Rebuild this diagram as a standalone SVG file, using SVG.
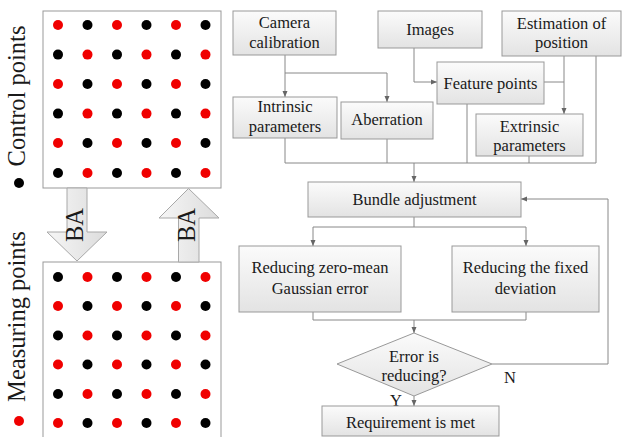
<svg xmlns="http://www.w3.org/2000/svg" width="622" height="437" viewBox="0 0 622 437">
<defs>
<linearGradient id="boxg" x1="0" y1="0" x2="0" y2="1">
<stop offset="0" stop-color="#fbfbfb"/>
<stop offset="1" stop-color="#e3e3e3"/>
</linearGradient>
<linearGradient id="arrg" x1="0" y1="0" x2="1" y2="0">
<stop offset="0" stop-color="#f6f6f6"/>
<stop offset="1" stop-color="#dcdcdc"/>
</linearGradient>
<marker id="ah" markerUnits="userSpaceOnUse" markerWidth="6" markerHeight="6" viewBox="0 0 6 6" refX="6" refY="3" orient="auto">
<path d="M0,0.5 L6,3 L0,5.5 Z" fill="#666"/>
</marker>
<style>
.box{fill:url(#boxg);stroke:#999;stroke-width:1}
.grid{fill:#fff;stroke:#999;stroke-width:1}
.t{font-family:"Liberation Serif","Times New Roman",serif;font-size:16.5px;fill:#1a1a1a;text-anchor:middle}
.big{font-family:"Liberation Serif","Times New Roman",serif;font-size:24.5px;fill:#1a1a1a;text-anchor:middle}
.c{fill:none;stroke:#888;stroke-width:1}
.r{fill:#f00000}
.k{fill:#000}
.ba{fill:url(#arrg);stroke:#a8a8a8;stroke-width:1}
</style>
</defs>

<!-- Left: control points grid -->
<g id="control-grid">
<rect class="grid" x="43" y="11" width="178" height="177"/>
<g>
<circle class="r" cx="58" cy="25" r="5"/><circle class="k" cx="87.5" cy="25" r="5"/><circle class="r" cx="117" cy="25" r="5"/><circle class="k" cx="146.5" cy="25" r="5"/><circle class="r" cx="176" cy="25" r="5"/><circle class="k" cx="205.5" cy="25" r="5"/>
<circle class="k" cx="58" cy="54.6" r="5"/><circle class="r" cx="87.5" cy="54.6" r="5"/><circle class="k" cx="117" cy="54.6" r="5"/><circle class="r" cx="146.5" cy="54.6" r="5"/><circle class="k" cx="176" cy="54.6" r="5"/><circle class="r" cx="205.5" cy="54.6" r="5"/>
<circle class="r" cx="58" cy="84" r="5"/><circle class="k" cx="87.5" cy="84" r="5"/><circle class="r" cx="117" cy="84" r="5"/><circle class="k" cx="146.5" cy="84" r="5"/><circle class="r" cx="176" cy="84" r="5"/><circle class="k" cx="205.5" cy="84" r="5"/>
<circle class="k" cx="58" cy="113.6" r="5"/><circle class="r" cx="87.5" cy="113.6" r="5"/><circle class="k" cx="117" cy="113.6" r="5"/><circle class="r" cx="146.5" cy="113.6" r="5"/><circle class="k" cx="176" cy="113.6" r="5"/><circle class="r" cx="205.5" cy="113.6" r="5"/>
<circle class="r" cx="58" cy="143" r="5"/><circle class="k" cx="87.5" cy="143" r="5"/><circle class="r" cx="117" cy="143" r="5"/><circle class="k" cx="146.5" cy="143" r="5"/><circle class="r" cx="176" cy="143" r="5"/><circle class="k" cx="205.5" cy="143" r="5"/>
<circle class="k" cx="58" cy="173" r="5"/><circle class="r" cx="87.5" cy="173" r="5"/><circle class="k" cx="117" cy="173" r="5"/><circle class="r" cx="146.5" cy="173" r="5"/><circle class="k" cx="176" cy="173" r="5"/><circle class="r" cx="205.5" cy="173" r="5"/>
</g>
</g>
<g id="control-label">
<text class="big" transform="translate(25,96) rotate(-90)">Control points</text>
<circle class="k" cx="19" cy="183" r="5"/>
</g>

<!-- Left: measuring points grid -->
<g id="measuring-grid">
<rect class="grid" x="43" y="262" width="178" height="180"/>
<g>
<circle class="k" cx="58" cy="277" r="5"/><circle class="r" cx="87.5" cy="277" r="5"/><circle class="k" cx="117" cy="277" r="5"/><circle class="r" cx="146.5" cy="277" r="5"/><circle class="k" cx="176" cy="277" r="5"/><circle class="r" cx="205.5" cy="277" r="5"/>
<circle class="r" cx="58" cy="306" r="5"/><circle class="k" cx="87.5" cy="306" r="5"/><circle class="r" cx="117" cy="306" r="5"/><circle class="k" cx="146.5" cy="306" r="5"/><circle class="r" cx="176" cy="306" r="5"/><circle class="k" cx="205.5" cy="306" r="5"/>
<circle class="k" cx="58" cy="335.5" r="5"/><circle class="r" cx="87.5" cy="335.5" r="5"/><circle class="k" cx="117" cy="335.5" r="5"/><circle class="r" cx="146.5" cy="335.5" r="5"/><circle class="k" cx="176" cy="335.5" r="5"/><circle class="r" cx="205.5" cy="335.5" r="5"/>
<circle class="r" cx="58" cy="364.5" r="5"/><circle class="k" cx="87.5" cy="364.5" r="5"/><circle class="r" cx="117" cy="364.5" r="5"/><circle class="k" cx="146.5" cy="364.5" r="5"/><circle class="r" cx="176" cy="364.5" r="5"/><circle class="k" cx="205.5" cy="364.5" r="5"/>
<circle class="k" cx="58" cy="394" r="5"/><circle class="r" cx="87.5" cy="394" r="5"/><circle class="k" cx="117" cy="394" r="5"/><circle class="r" cx="146.5" cy="394" r="5"/><circle class="k" cx="176" cy="394" r="5"/><circle class="r" cx="205.5" cy="394" r="5"/>
<circle class="r" cx="58" cy="423" r="5"/><circle class="k" cx="87.5" cy="423" r="5"/><circle class="r" cx="117" cy="423" r="5"/><circle class="k" cx="146.5" cy="423" r="5"/><circle class="r" cx="176" cy="423" r="5"/><circle class="k" cx="205.5" cy="423" r="5"/>
</g>
</g>
<g id="measuring-label">
<text class="big" transform="translate(25,316.5) rotate(-90)">Measuring points</text>
<circle class="r" cx="19" cy="421" r="5"/>
</g>

<!-- BA arrows -->
<g id="ba-down">
<path class="ba" d="M67,188 H87 V232 H107 L77,261 L47,232 H67 Z"/>
<text class="big" transform="translate(83,225) rotate(-90)">BA</text>
</g>
<g id="ba-up">
<path class="ba" d="M178.5,262 V218 H159 L188.5,188.5 L219,218 H199 V262 Z"/>
<text class="big" transform="translate(195,225) rotate(-90)">BA</text>
</g>

<!-- Connectors -->
<g id="connectors">
<path class="c" d="M285,55 V97" marker-end="url(#ah)"/>
<path class="c" d="M285,73 H387 V102" marker-end="url(#ah)"/>
<path class="c" d="M414,48 V82 H437" marker-end="url(#ah)"/>
<path class="c" d="M544,82 H564"/>
<path class="c" d="M564,56 V114" marker-end="url(#ah)"/>
<path class="c" d="M596,56 V163"/>
<path class="c" d="M285,138 V163 H596"/>
<path class="c" d="M387,139 V163"/>
<path class="c" d="M467,104 V163"/>
<path class="c" d="M529,156 V163"/>
<path class="c" d="M414,163 V182" marker-end="url(#ah)"/>
<path class="c" d="M414,217 V227"/>
<path class="c" d="M313,227 H526"/>
<path class="c" d="M313,227 V246" marker-end="url(#ah)"/>
<path class="c" d="M526,227 V246" marker-end="url(#ah)"/>
<path class="c" d="M313,312 V320 H526 V312"/>
<path class="c" d="M414,320 V333" marker-end="url(#ah)"/>
<path class="c" d="M492,364 H608 V199 H521" marker-end="url(#ah)"/>
<path class="c" d="M414,396 V406" marker-end="url(#ah)"/>
<text class="t" x="510" y="383">N</text>
<text class="t" x="396" y="406">Y</text>
</g>

<!-- Flowchart nodes -->
<g id="camera-calibration">
<rect class="box" x="233" y="11" width="103" height="44"/>
<text class="t" x="284.5" y="28">Camera</text>
<text class="t" x="284.5" y="48">calibration</text>
</g>
<g id="images">
<rect class="box" x="378" y="11" width="104" height="37"/>
<text class="t" x="430" y="35">Images</text>
</g>
<g id="estimation-of-position">
<rect class="box" x="502" y="11" width="119" height="45"/>
<text class="t" x="561.5" y="29">Estimation of</text>
<text class="t" x="561.5" y="48">position</text>
</g>
<g id="intrinsic-parameters">
<rect class="box" x="233" y="97" width="104" height="41"/>
<text class="t" x="285" y="112">Intrinsic</text>
<text class="t" x="285" y="131.5">parameters</text>
</g>
<g id="aberration">
<rect class="box" x="341" y="102" width="92" height="37"/>
<text class="t" x="387" y="125">Aberration</text>
</g>
<g id="feature-points">
<rect class="box" x="437" y="62" width="107" height="42"/>
<text class="t" x="490.5" y="89">Feature points</text>
</g>
<g id="extrinsic-parameters">
<rect class="box" x="476" y="114" width="107" height="42"/>
<text class="t" x="529.5" y="132">Extrinsic</text>
<text class="t" x="529.5" y="151">parameters</text>
</g>
<g id="bundle-adjustment">
<rect class="box" x="308" y="182" width="213" height="35"/>
<text class="t" x="414.5" y="205">Bundle adjustment</text>
</g>
<g id="reducing-gaussian">
<rect class="box" x="239" y="246" width="162" height="66"/>
<text class="t" x="320" y="273">Reducing zero-mean</text>
<text class="t" x="320" y="294">Gaussian error</text>
</g>
<g id="reducing-fixed">
<rect class="box" x="452" y="246" width="147" height="66"/>
<text class="t" x="525.5" y="273">Reducing the fixed</text>
<text class="t" x="525.5" y="294">deviation</text>
</g>
<g id="error-decision">
<path class="box" d="M414,333 L492,364 L414,396 L337,364 Z"/>
<text class="t" x="414" y="362">Error is</text>
<text class="t" x="414" y="381">reducing?</text>
</g>
<g id="requirement-met">
<rect class="box" x="322" y="406" width="177" height="30"/>
<text class="t" x="410.5" y="428">Requirement is met</text>
</g>
</svg>
